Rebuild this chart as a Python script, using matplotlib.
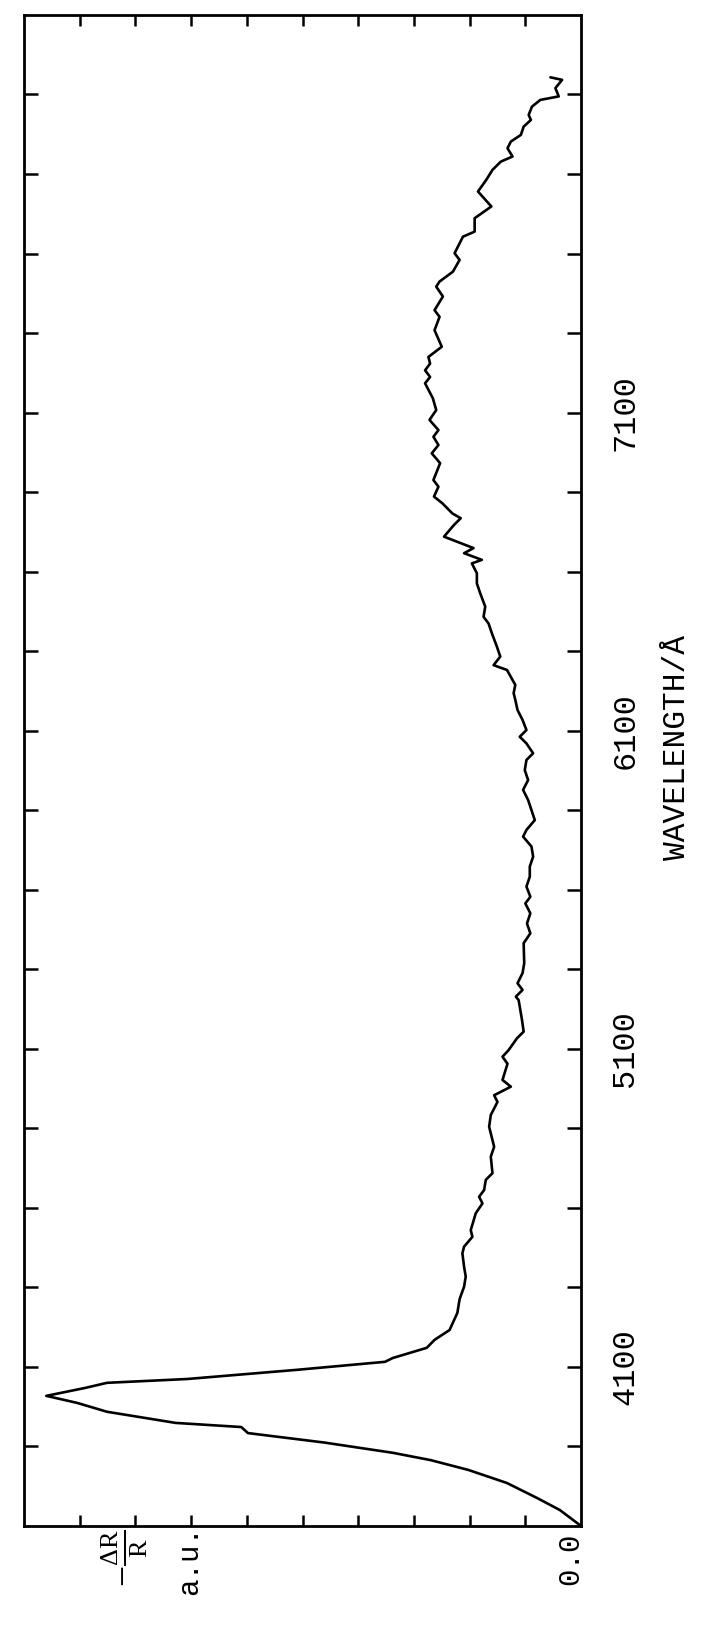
import numpy as np
import matplotlib.pyplot as plt

plt.rcParams['font.family'] = ['Liberation Mono', 'DejaVu Sans']
plt.rcParams['mathtext.fontset'] = 'custom'
plt.rcParams['mathtext.rm'] = 'Liberation Serif'
plt.rcParams['mathtext.it'] = 'Liberation Serif'

# electroreflectance trace: wavelength (A) and -dR/R (arbitrary units)
wavelength = [
    3600, 3650, 3688, 3735, 3776, 3807, 3830, 3862, 3892, 3911,
    3924, 3959, 3987, 4009, 4034, 4050, 4062, 4091, 4116, 4128,
    4160, 4185, 4216, 4270, 4313, 4352, 4384, 4415, 4457, 4478,
    4509, 4530, 4583, 4614, 4635, 4656, 4688, 4709, 4761, 4792,
    4855, 4892, 4933, 4954, 4981, 5002, 5053, 5075, 5096, 5133,
    5154, 5191, 5222, 5253, 5264, 5285, 5306, 5338, 5369, 5432,
    5463, 5494, 5526, 5557, 5578, 5610, 5641, 5673, 5704, 5736,
    5767, 5788, 5819, 5882, 5914, 5945, 5976, 6008, 6029, 6060,
    6081, 6102, 6134, 6165, 6197, 6218, 6244, 6291, 6306, 6333,
    6364, 6406, 6437, 6458, 6490, 6532, 6563, 6595, 6626, 6637,
    6658, 6674, 6710, 6747, 6768, 6783, 6815, 6836, 6867, 6888,
    6941, 6972, 6998, 7024, 7045, 7077, 7108, 7145, 7192, 7212,
    7233, 7254, 7275, 7307, 7359, 7401, 7422, 7465, 7496, 7512,
    7543, 7580, 7601, 7653, 7669, 7711, 7748, 7795, 7832, 7863,
    7889, 7905, 7931, 7952, 7973, 7999, 8020, 8036, 8062, 8083,
    8094, 8120, 8146, 8154,
]
signal = [
    0.00, 0.38, 0.79, 1.33, 2.02, 2.70, 3.38, 4.60, 5.98, 6.10,
    7.28, 8.51, 9.05, 9.60, 8.90, 8.51, 7.07, 5.09, 3.52, 3.38,
    2.77, 2.63, 2.36, 2.22, 2.18, 2.10, 2.07, 2.10, 2.13, 2.10,
    1.95, 1.98, 1.89, 1.77, 1.83, 1.74, 1.71, 1.59, 1.62, 1.56,
    1.65, 1.62, 1.50, 1.56, 1.26, 1.41, 1.32, 1.41, 1.30, 1.15,
    1.03, 1.06, 1.09, 1.12, 1.17, 1.05, 1.14, 1.05, 1.02, 1.03,
    0.91, 0.97, 0.91, 1.00, 0.91, 0.98, 0.92, 0.92, 0.86, 0.89,
    1.04, 0.98, 0.83, 0.95, 1.04, 0.95, 1.01, 0.98, 0.86, 0.98,
    1.10, 0.98, 1.05, 1.14, 1.18, 1.21, 1.18, 1.33, 1.57, 1.45,
    1.51, 1.60, 1.66, 1.75, 1.72, 1.81, 1.87, 1.87, 1.96, 1.78,
    2.10, 1.93, 2.46, 2.28, 2.16, 2.31, 2.49, 2.64, 2.56, 2.65,
    2.53, 2.68, 2.56, 2.65, 2.56, 2.72, 2.60, 2.66, 2.80, 2.71,
    2.80, 2.71, 2.74, 2.50, 2.63, 2.54, 2.63, 2.48, 2.60, 2.54,
    2.30, 2.18, 2.27, 2.12, 1.91, 1.91, 1.61, 1.85, 1.70, 1.59,
    1.44, 1.23, 1.32, 1.26, 1.08, 1.03, 0.90, 0.94, 0.88, 0.73,
    0.40, 0.46, 0.34, 0.55,
]

wl_ticks = np.arange(3850, 8350, 250)
wl_labels = [4100, 5100, 6100, 7100]
signal_ticks = np.arange(1, 10)

fig = plt.figure(figsize=(7.11, 16.27), dpi=100)
ax = fig.add_axes([0.0338, 0.0621, 0.7834, 0.9287])

ax.plot(signal, wavelength, color='black', lw=1.9,
        solid_joinstyle='round', solid_capstyle='round')

# signal grows to the left, wavelength upward
ax.set_xlim(10, 0)
ax.set_ylim(3600, 8350)

for side in ax.spines.values():
    side.set_linewidth(2.0)

ax.set_xticks(signal_ticks)
ax.set_xticklabels([])
ax.tick_params(axis='x', which='both', direction='in', top=True, bottom=True,
               length=8, width=1.8)

ax.yaxis.tick_right()
ax.set_yticks(wl_ticks)
ax.set_yticklabels([str(t) if t in wl_labels else '' for t in wl_ticks],
                   rotation=90, va='center', fontsize=23)
ax.tick_params(axis='y', which='both', direction='in', left=True, right=True,
               length=10, width=1.8, pad=21)

ax.annotate('0.0', xy=(0, 0), xycoords=('data', 'axes fraction'),
            xytext=(-8, -5), textcoords='offset points',
            rotation=90, ha='center', va='top', fontsize=21)

fig.text(677 / 711, 1 - 748 / 1627, 'WAVELENGTH/Å', rotation=90,
         ha='center', va='center', fontsize=22.5)
fig.text(125 / 711, 1 - 1558 / 1627, r'$-\frac{\Delta\mathrm{R}}{\mathrm{R}}$',
         rotation=90, ha='center', va='center', fontsize=27)
fig.text(189 / 711, 1 - 1560 / 1627, 'a.u.', rotation=90,
         ha='center', va='center', fontsize=21)

fig.savefig('out.png', dpi=100, facecolor='white')
